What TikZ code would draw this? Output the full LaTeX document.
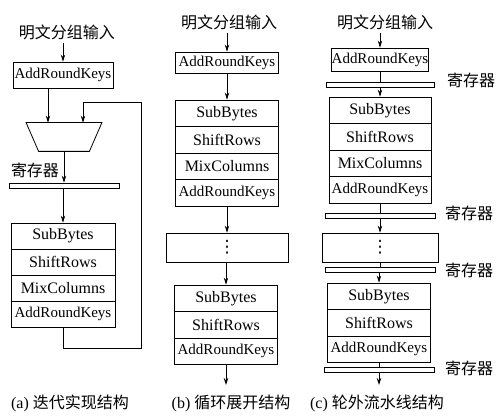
\documentclass[tikz,border=0pt]{standalone}
\usepackage{fontspec}
\setmainfont{Liberation Serif}
\newfontfamily\cjk{Noto Sans CJK SC}
\newfontfamily\symf{DejaVu Sans}
\usetikzlibrary{arrows.meta}

\begin{document}
\begin{tikzpicture}[x=1pt, y=-1pt, line width=0.8pt,
  row/.style={draw, inner sep=0pt, minimum height=26.5pt, font=\fontsize{16}{18}\selectfont},
  rowk/.style={row, font=\fontsize{15}{17}\selectfont},
  dots/.style={row, font=\fontsize{17}{19}\selectfont\symf},
  reg/.style={draw, fill=white, inner sep=0pt, minimum height=5pt},
  cn/.style={font=\fontsize{16}{18}\selectfont\cjk},
  captxt/.style={font=\fontsize{16}{18}\selectfont},
  arr/.style={-{Stealth[length=7pt, width=4.5pt]}}]
\useasboundingbox (0,0) rectangle (496,417);

% (a) iterative
\node[cn] (tA) at (67,32) {明文分组输入};
\node[rowk, minimum width=100pt, minimum height=26pt] (a0) at (63,75) {AddRoundKeys};
\node[minimum width=75pt, minimum height=28pt, inner sep=0pt] (mux) at (64,137) {};
\draw (mux.north west) -- (mux.north east) -- ([xshift=-12.5pt]mux.south east) -- ([xshift=12.5pt]mux.south west) -- cycle;
\node[reg, minimum width=110pt] (rA) at (64,185.5) {};
\node[cn] (lA) at (35,170) {寄存器};
\node[row, minimum width=104pt, minimum height=26pt] (a1) at (63,236) {SubBytes};
\node[row, minimum width=104pt, minimum height=26pt] (a2) at (63,262) {ShiftRows};
\node[row, minimum width=104pt, minimum height=26pt] (a3) at (63,288) {MixColumns};
\node[rowk, minimum width=104pt, minimum height=26pt] (a4) at (63,314) {AddRoundKeys};
\coordinate (inA) at (48,0);
\coordinate (fbR) at (141,348);
\coordinate (fbL) at (83,102);
\draw[arr] (a0.north |- tA.south) -- (a0.north);
\draw[arr] (a0.south -| inA) -- (inA |- mux.north);
\draw[arr] (mux.south) -- (rA.north);
\draw[arr] (a1.north |- rA.south) -- (a1.north);
\draw[arr] (a4.south) |- (fbR) |- (fbL) -- (fbL |- mux.north);
\node[captxt] (cA) at (70,403) {(a) {\cjk 迭代实现结构}};

% (b) unrolled
\node[cn] (tB) at (229,22) {明文分组输入};
\node[rowk, minimum width=103pt, minimum height=21pt] (b0) at (227,62.5) {AddRoundKeys};
\node[row, minimum width=103pt] (b1) at (227,113.25) {SubBytes};
\node[row, minimum width=103pt] (b2) at (227,139.75) {ShiftRows};
\node[row, minimum width=103pt] (b3) at (227,166.25) {MixColumns};
\node[rowk, minimum width=103pt] (b4) at (227,192.75) {AddRoundKeys};
\node[dots, minimum width=122pt, minimum height=29pt] (bd) at (227,247.5) {⋮};
\node[row, minimum width=103pt] (b5) at (226,298.25) {SubBytes};
\node[row, minimum width=103pt] (b6) at (226,324.75) {ShiftRows};
\node[rowk, minimum width=103pt] (b7) at (226,351.25) {AddRoundKeys};
\coordinate (oB) at (226,385);
\draw[arr] (b0.north |- tB.south) -- (b0.north);
\draw[arr] (b0.south) -- (b1.north);
\draw[arr] (b4.south) -- (bd.north);
\draw[arr] (b5.north |- bd.south) -- (b5.north);
\draw[arr] (b7.south) -- (oB);
\node[captxt] (cB) at (231,403) {(b) {\cjk 循环展开结构}};

% (c) outer-round pipeline
\node[cn] (tC) at (385,22) {明文分组输入};
\node[rowk, minimum width=97pt, minimum height=23pt] (c0) at (380,59.5) {AddRoundKeys};
\node[reg, minimum width=108pt] (r1) at (380,84.5) {};
\node[row, minimum width=102pt] (c1) at (380,110.25) {SubBytes};
\node[row, minimum width=102pt] (c2) at (380,136.75) {ShiftRows};
\node[row, minimum width=102pt] (c3) at (380,163.25) {MixColumns};
\node[rowk, minimum width=102pt] (c4) at (380,189.75) {AddRoundKeys};
\node[reg, minimum width=110pt] (r2) at (380,215.5) {};
\node[dots, minimum width=116pt, minimum height=29pt] (cd) at (380,247.5) {⋮};
\node[reg, minimum width=110pt] (r3) at (380,269.5) {};
\node[row, minimum width=103pt] (c5) at (379,296.25) {SubBytes};
\node[row, minimum width=103pt] (c6) at (379,322.75) {ShiftRows};
\node[rowk, minimum width=103pt] (c7) at (379,349.25) {AddRoundKeys};
\node[reg, minimum width=110pt] (r4) at (379,369.5) {};
\node[cn] (l1) at (471,80) {寄存器};
\node[cn] (l2) at (469,213) {寄存器};
\node[cn] (l3) at (469,270) {寄存器};
\node[cn] (l4) at (469,368) {寄存器};
\coordinate (oC) at (379,385);
\draw[arr] (c0.north |- tC.south) -- (c0.north);
\draw (c0.south) -- (r1.north);
\draw[arr] (r1.south) -- (c1.north);
\draw (c4.south) -- (r2.north);
\draw[arr] (r2.south) -- (cd.north);
\draw (cd.south) -- (r3.north);
\draw[arr] (c5.north |- r3.south) -- (c5.north);
\draw (c7.south) -- (r4.north);
\draw[arr] (r4.south) -- (oC);
\node[captxt] (cC) at (377,403) {(c) {\cjk 轮外流水线结构}};
\end{tikzpicture}
\end{document}
